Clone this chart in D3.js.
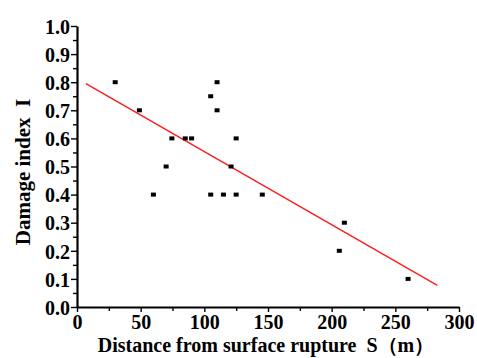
<!DOCTYPE html>
<html>
<head>
<meta charset="utf-8">
<script src="https://cdn.jsdelivr.net/npm/d3@7"></script>
<style>
  body { margin: 0; background: #fff; }
  svg { display: block; }
  text { font-family: "Liberation Serif", "Times New Roman", serif; font-weight: bold; }
</style>
</head>
<body>
<div id="chart"></div>
<script>
const Width = 477;
const Height = 358;

// observed points: distance S (m) and damage index I
const distance = [30, 49, 60, 70, 74.5, 85, 90, 105, 105, 110, 110, 115, 121, 125, 125, 145.5, 206, 210, 260];
const damage   = [0.8, 0.7, 0.4, 0.5, 0.6, 0.6, 0.6, 0.75, 0.4, 0.8, 0.7, 0.4, 0.5, 0.6, 0.4, 0.4, 0.2, 0.3, 0.1];

// fitted line end points
const fitS = [7, 283];
const fitI = [0.795, 0.077];

const xTicks = [0, 50, 100, 150, 200, 250, 300];
const yTicks = [0.0, 0.1, 0.2, 0.3, 0.4, 0.5, 0.6, 0.7, 0.8, 0.9, 1.0];

const margin = {left: 77, right: 18, top: 26, bottom: 51};

const svg = d3.select('#chart').
append('svg').
attr('width', Width).
attr('height', Height);

const x = d3.scaleLinear().domain([0, 300]).range([margin.left, Width - margin.right]);
const y = d3.scaleLinear().domain([0, 1]).range([Height - margin.bottom, margin.top]);

// stray descender from text above the figure
svg.append('text').
attr('x', 405).
attr('y', -5).
style('font-weight', 'normal').
style('font-size', '22px').
text('g');

//minor ticks
const xAxisMinor = d3.axisBottom(x).tickValues(d3.range(25, 300, 50)).tickSize(4).tickFormat('');
const yAxisMinor = d3.axisLeft(y).tickValues(d3.range(0.05, 1, 0.1)).tickSize(4).tickFormat('');

svg.append('g').
attr('transform', 'translate(0,' + y(0) + ')').
call(xAxisMinor).
call(g => g.select('.domain').remove()).
selectAll('line').attr('stroke', '#000').attr('stroke-width', 1.4);

svg.append('g').
attr('transform', 'translate(' + x(0) + ',0)').
call(yAxisMinor).
call(g => g.select('.domain').remove()).
selectAll('line').attr('stroke', '#000').attr('stroke-width', 1.4);

//major axes
const xAxis = d3.axisBottom(x).tickValues(xTicks).tickSize(5).tickSizeOuter(0).tickPadding(3).tickFormat(d3.format('d'));
const yAxis = d3.axisLeft(y).tickValues(yTicks).tickSize(6).tickSizeOuter(0).tickPadding(1).tickFormat(d3.format('.1f'));

const gx = svg.append('g').
attr('transform', 'translate(0,' + y(0) + ')').
call(xAxis);
gx.select('.domain').attr('stroke-width', 2.2);
gx.selectAll('line').attr('stroke-width', 1.4);
gx.selectAll('text').style('font-size', '20px').attr('fill', '#000');

const gy = svg.append('g').
attr('transform', 'translate(' + x(0) + ',0)').
call(yAxis);
gy.select('.domain').attr('stroke-width', 2.2);
gy.selectAll('line').attr('stroke-width', 1.4);
gy.selectAll('text').style('font-size', '20px').attr('fill', '#000').attr('dy', '0.36em');

//fitted line
svg.append('path').
datum(fitS.map((s, i) => [s, fitI[i]])).
attr('fill', 'none').
attr('stroke', '#ff1a1a').
attr('stroke-width', 1.4).
attr('d', d3.line().x(d => x(d[0])).y(d => y(d[1])));

//points
svg.selectAll('.pt').
data(distance.map((s, i) => [s, damage[i]])).
enter().
append('rect').
attr('class', 'pt').
attr('x', d => x(d[0]) - 2.5).
attr('y', d => y(d[1]) - 2).
attr('width', 5).
attr('height', 4).
attr('fill', '#000');

//axis titles
svg.append('text').
attr('x', 266).
attr('y', 352).
attr('text-anchor', 'middle').
style('font-size', '20px').
text('Distance from surface rupture\u00a0\u00a0S（m）');

svg.append('text').
attr('transform', 'translate(30,172) rotate(-90)').
attr('text-anchor', 'middle').
style('font-size', '21px').
text('Damage index\u00a0\u00a0I');
</script>
</body>
</html>
